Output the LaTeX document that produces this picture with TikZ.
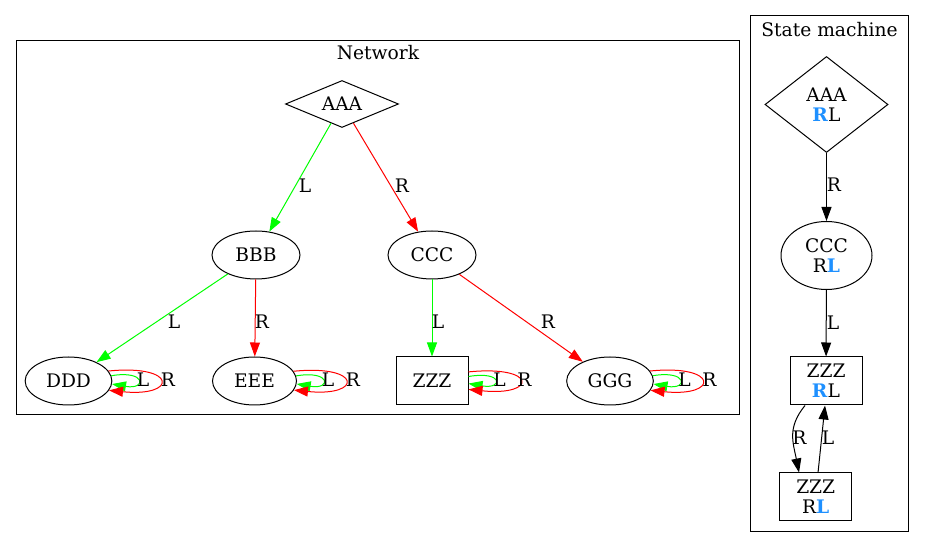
\documentclass[tikz,border=0pt]{standalone}
\usepackage{fontspec}
\setmainfont{DejaVu Serif}
\usetikzlibrary{shapes.geometric,arrows.meta}
\definecolor{gvgreen}{HTML}{00FF00}
\definecolor{gvred}{HTML}{FF0000}
\definecolor{gvblue}{HTML}{1E90FF}
\begin{document}
\begin{tikzpicture}[x=0.75pt,y=-0.75pt,
  font=\fontsize{14pt}{15pt}\selectfont,
  line width=0.75pt,
  ell/.style={ellipse, draw, inner sep=0pt, minimum width=65pt, minimum height=36pt},
  boxnode/.style={rectangle, draw, inner sep=0pt, minimum width=54pt, minimum height=36pt, align=center},
  arr/.style={-{Triangle[length=10.5pt,width=7.5pt]}},
  lbl/.style={inner sep=0pt},
  clusterbox/.style={draw, line width=0.75pt}]
\useasboundingbox (0,0) rectangle (925,548);
% clusters
\draw[clusterbox] (16,41) rectangle (739,415);
\node[lbl] (netlabel) at (378,53) {Network};
\draw[clusterbox] (750.5,15.5) rectangle (908.5,531.5);
\node[lbl] (smlabel) at (829.5,30) {State machine};
% network nodes
\node[diamond, draw, aspect=2.4, minimum width=84.75pt, minimum height=35.25pt, inner sep=0pt] (A) at (342,104) {AAA};
\node[ell, minimum width=66pt] (B) at (256,255) {BBB};
\node[ell, minimum width=66pt] (C) at (432,255) {CCC};
\node[ell] (D) at (68.5,381) {DDD};
\node[ell, minimum width=63pt] (E) at (254.5,381) {EEE};
\node[boxnode] (Z) at (432,381) {ZZZ};
\node[ell] (G) at (610,381) {GGG};
% network edges
\draw[arr, gvgreen] (A) -- (B);
\draw[arr, gvred] (A) -- (C);
\draw[arr, gvgreen] (B) -- (D);
\draw[arr, gvred] (B) -- (E);
\draw[arr, gvgreen] (C) -- (Z);
\draw[arr, gvred] (C) -- (G);
\node[lbl] (lAB) at (305,186) {L};
\node[lbl] (lAC) at (402,186) {R};
\node[lbl] (lBD) at (174,322) {L};
\node[lbl] (lBE) at (262,322) {R};
\node[lbl] (lCZ) at (438,322) {L};
\node[lbl] (lCG) at (548,322) {R};
% self loops
\foreach \n in {D, E, Z, G} {
  \draw[arr, gvgreen] (\n.7) .. controls +(35,-6) and +(35,6) .. (\n.-4);
  \draw[arr, gvred] (\n.14) .. controls +(69,-7) and +(69,7) .. (\n.-13);
}
\node[lbl] (lDL) at (143,380) {L};
\node[lbl] (lDR) at (168,380) {R};
\node[lbl] (lEL) at (328,380) {L};
\node[lbl] (lER) at (353,380) {R};
\node[lbl] (lZL) at (499.5,380) {L};
\node[lbl] (lZR) at (524.5,380) {R};
\node[lbl] (lGL) at (684.5,380) {L};
\node[lbl] (lGR) at (709.5,380) {R};
% state machine nodes
\node[diamond, draw, aspect=1.28, minimum width=92.25pt, minimum height=72pt, inner sep=0pt, align=center] (SA) at (826.5,104.5) {AAA\\\textcolor{gvblue}{\textbf{R}}L};
\node[ell, minimum width=68.25pt, minimum height=51pt, align=center] (SC) at (826.5,255.5) {CCC\\R\textcolor{gvblue}{\textbf{L}}};
\node[boxnode] (SZ1) at (826,381) {ZZZ\\\textcolor{gvblue}{\textbf{R}}L};
\node[boxnode] (SZ2) at (815.7,497) {ZZZ\\R\textcolor{gvblue}{\textbf{L}}};
% state machine edges
\draw[arr] (SA) -- (SC);
\draw[arr] (SC) -- (SZ1);
\draw[arr] ([xshift=-15.75pt]SZ1.south) .. controls +(-18,22) and +(-6,-30) .. ([xshift=-12.5pt]SZ2.north);
\draw[arr] ([xshift=1.75pt]SZ2.north) -- ([xshift=-0.75pt]SZ1.south);
\node[lbl] (lSAC) at (834,185) {R};
\node[lbl] (lSCZ) at (833,323) {L};
\node[lbl] (lSZR) at (799.5,438) {R};
\node[lbl] (lSZL) at (828,438) {L};
\end{tikzpicture}
\end{document}
